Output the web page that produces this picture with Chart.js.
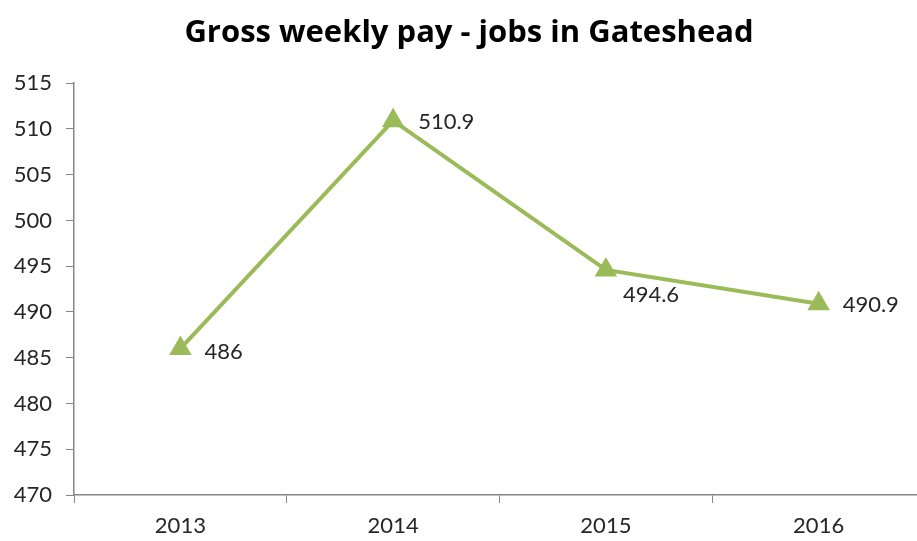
<!DOCTYPE html>
<html lang="en">
<head>
  <meta charset="UTF-8">
  <title>Gross weekly pay - jobs in Gateshead</title>
  <script src="https://cdn.jsdelivr.net/npm/chart.js"></script>
  <style>
    html, body { margin: 0; padding: 0; background: #fff; overflow: hidden; }
    #payChart { display: block; }
  </style>
</head>
<body>
  <canvas id="payChart" width="938" height="541"></canvas>

  <script>
    const years = ['2013', '2014', '2015', '2016'];
    const weeklyPay = [486, 510.9, 494.6, 490.9];
    const payLabels = ['486', '510.9', '494.6', '490.9'];
    const yTicks = [470, 475, 480, 485, 490, 495, 500, 505, 510, 515];

    const green = '#9bbb59';
    const axisGrey = '#868686';
    const textColor = '#262626';

    // draws the value next to each point (Chart.js has no datalabels built in)
    const valueLabels = {
      id: 'valueLabels',
      afterDatasetsDraw(chart, args, opts) {
        const ctx = chart.ctx;
        const pts = chart.getDatasetMeta(0).data;
        ctx.save();
        ctx.font = opts.font;
        ctx.fillStyle = opts.color;
        ctx.textAlign = 'left';
        ctx.textBaseline = 'middle';
        pts.forEach((pt, i) => {
          const off = opts.offsets[i];
          ctx.fillText(payLabels[i], pt.x + off[0], pt.y + off[1]);
        });
        ctx.restore();
      }
    };

    const ctx = document.getElementById('payChart').getContext('2d');
    new Chart(ctx, {
      type: 'line',
      data: {
        labels: years,
        datasets: [{
          label: 'Gross weekly pay',
          data: weeklyPay,
          borderColor: green,
          backgroundColor: green,
          borderWidth: 4,
          pointStyle: 'triangle',
          pointRadius: 13,
          pointBorderWidth: 0,
          pointBackgroundColor: green,
          tension: 0
        }]
      },
      options: {
        responsive: false,
        animation: false,
        layout: { padding: 0 },
        plugins: {
          legend: { display: false },
          tooltip: { enabled: false },
          title: {
            display: true,
            text: 'Gross weekly pay - jobs in Gateshead',
            color: '#000',
            font: { family: 'Open Sans', size: 31, weight: 'bold' },
            padding: { top: 15, bottom: 31 }
          },
          valueLabels: {
            font: '22px Lato',
            color: textColor,
            offsets: [[24, 3], [25, 1], [17, 25], [24, 1]]
          }
        },
        scales: {
          x: {
            offset: true,
            afterFit: s => { s.height = 46; },
            border: { color: axisGrey, width: 1.5 },
            grid: { offset: true, drawOnChartArea: false, tickLength: 8, color: axisGrey },
            ticks: { color: textColor, font: { family: 'Lato', size: 22 }, padding: 10 }
          },
          y: {
            min: 470,
            max: 515,
            afterFit: s => { s.width = 74; },
            afterBuildTicks: s => { s.ticks = yTicks.map(v => ({ value: v })); },
            border: { color: axisGrey, width: 1.5 },
            grid: { drawOnChartArea: false, tickLength: 8, color: axisGrey },
            ticks: { color: textColor, font: { family: 'Lato', size: 22 }, padding: 14 }
          }
        }
      },
      plugins: [valueLabels]
    });
  </script>
</body>
</html>
